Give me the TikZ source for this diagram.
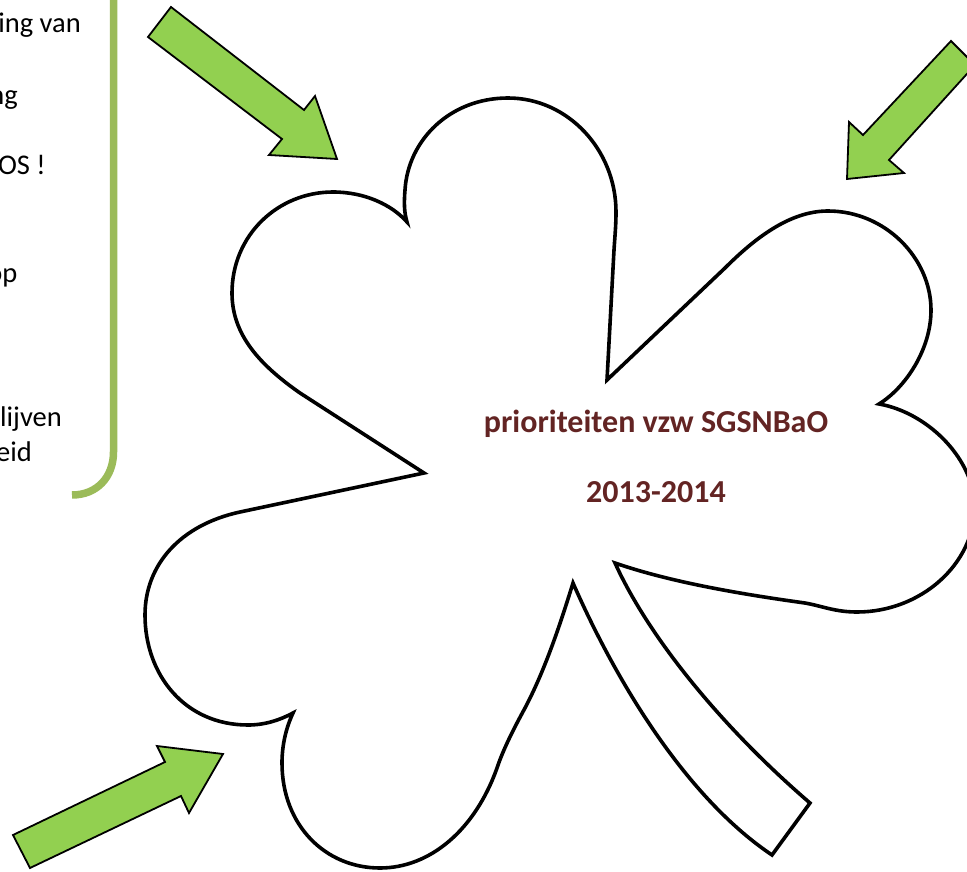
\documentclass[tikz,border=0pt]{standalone}
\usepackage{fontspec}
\setmainfont{Carlito}
\definecolor{arrowgreen}{HTML}{92D050}
\definecolor{bracegreen}{HTML}{9BBB59}
\definecolor{titlered}{HTML}{632423}
\tikzset{
  clover/.style={draw=black,line width=3.6pt,line join=miter,fill=white},
  bigarrow/.style={draw=black,line width=1.8pt,line join=miter,fill=arrowgreen},
  brace/.style={draw=bracegreen,line width=7.5pt},
  lefttext/.style={anchor=base east,inner sep=0pt,font=\fontsize{28.5}{34}\selectfont,text=black},
  titletext/.style={anchor=base,inner sep=0pt,font=\fontsize{32}{38}\bfseries\selectfont,text=titlered}
}
\begin{document}
\begin{tikzpicture}[x=1pt,y=-1pt]
\useasboundingbox (0,0) rectangle (967,872);
\clip (0,0) rectangle (967,872);
% side bracket
\draw[brace] (113.5,-5) -- (113.5,452) .. controls (113.5,477) and (97,495) .. (72,495);
% clipped texts
\node[lefttext] (t1) at (81,33) {ing van};
\node[lefttext] (t2) at (18,105) {ng};
\node[lefttext] (t3) at (46,175) {OS !};
\node[lefttext] (t4) at (17.5,282) {op};
\node[lefttext] (t5) at (62,426) {lijven};
\node[lefttext] (t6) at (32,461) {eid};
% arrows
\path[bigarrow] (171,7) -- (148,37) -- (282,139) -- (269,155) -- (337,159) -- (315,96) -- (304,110) -- cycle;
\path[bigarrow] (951,41) -- (975,65) -- (889,160) -- (904,173) -- (847,179) -- (849,122) -- (863,135) -- cycle;
\path[bigarrow] (13,835) -- (30,868) -- (181,796) -- (189,813) -- (223,754) -- (157,746) -- (165,762) -- cycle;
% clover
\path[clover] (407,222)
  .. controls (404,212) and (404,202) .. (405,190)
  .. controls (408,140) and (450,98) .. (508,98)
  .. controls (568,98) and (616,150) .. (616,212)
  .. controls (616,225) and (615,235) .. (614,250)
  -- (607,380)
  -- (725,268)
  .. controls (755,238) and (790,211) .. (828,211)
  .. controls (885,211) and (931,258) .. (931,310)
  .. controls (931,350) and (905,388) .. (879,404)
  .. controls (925,412) and (972,455) .. (975,505)
  .. controls (975,565) and (920,612) .. (857,612)
  .. controls (835,612) and (822,606) .. (805,603)
  .. controls (740,594) and (670,582) .. (615,563)
  .. controls (650,640) and (725,730) .. (810,803)
  -- (772,855)
  .. controls (690,800) and (620,690) .. (573,583)
  .. controls (560,625) and (545,670) .. (525,708)
  .. controls (513,730) and (503,750) .. (497,768)
  .. controls (475,830) and (430,868) .. (380,868)
  .. controls (325,868) and (282,825) .. (282,763)
  .. controls (282,745) and (286,728) .. (293,713)
  .. controls (280,720) and (265,725) .. (248,725)
  .. controls (185,725) and (145,675) .. (145,615)
  .. controls (145,565) and (180,525) .. (240,512)
  -- (424,473)
  -- (300,393)
  .. controls (260,365) and (232,335) .. (232,293)
  .. controls (232,235) and (278,192) .. (333,192)
  .. controls (365,192) and (392,205) .. (407,222)
  -- cycle;
% title
\node[titletext] (title) at (656,432) {prioriteiten vzw SGSNBaO};
\node[titletext] (year) at (656,502) {2013-2014};
\end{tikzpicture}
\end{document}
